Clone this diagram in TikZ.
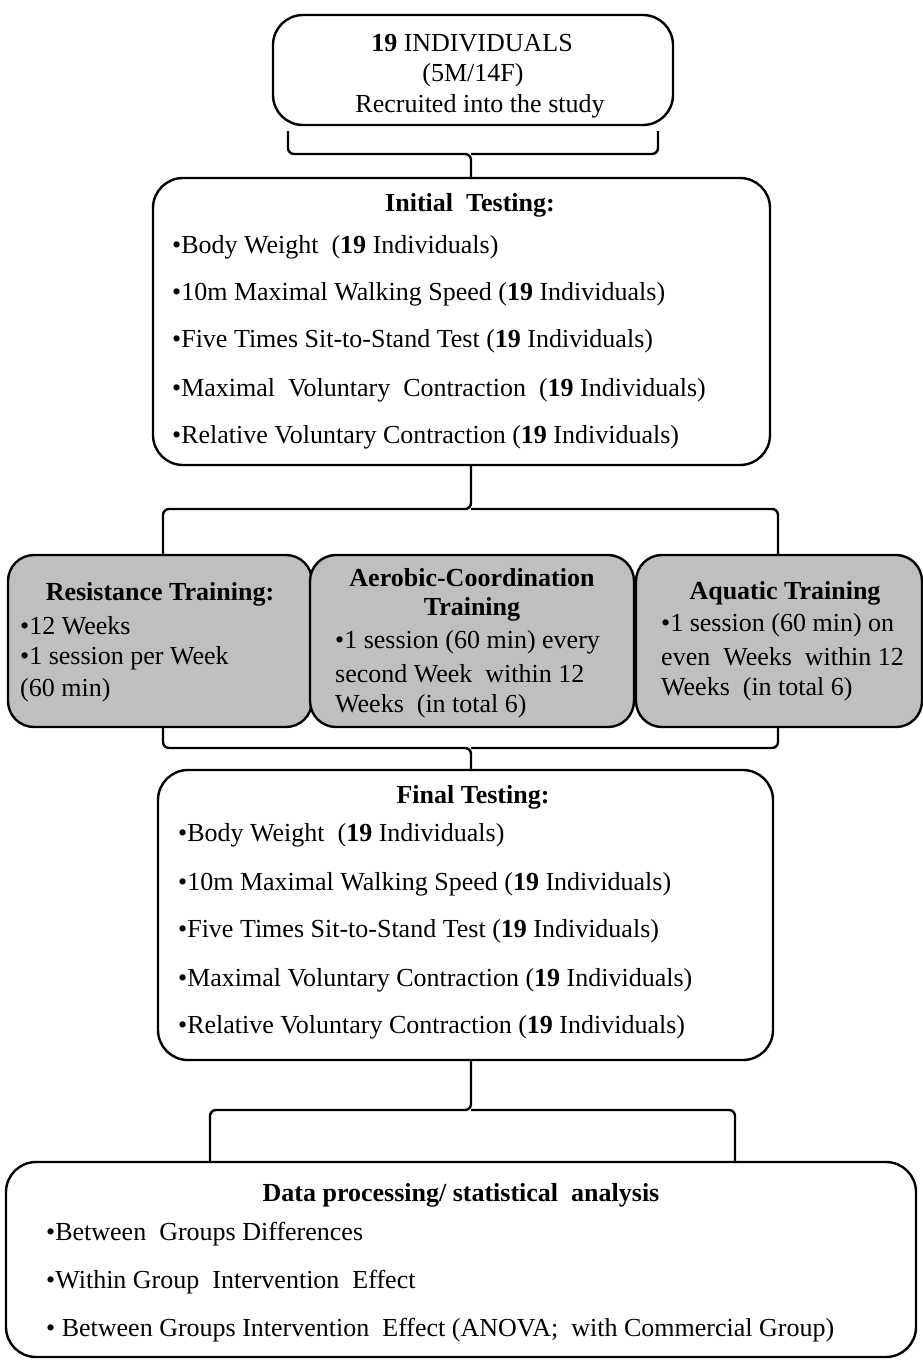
\documentclass[tikz,border=0pt]{standalone}
\usepackage{fontspec}
\setmainfont{Liberation Serif}
\usetikzlibrary{positioning}

\tikzset{
  box/.style={draw,line width=2.4pt,rounded corners=30pt,fill=white,inner sep=0pt},
  graybox/.style={box,fill=black!25,rounded corners=26pt},
  brace/.style={line width=2.4pt,rounded corners=6pt},
  txt/.style={anchor=west,inner sep=0pt,font=\fontsize{26}{30}\selectfont},
  ctxt/.style={inner sep=0pt,font=\fontsize{26}{30}\selectfont},
  head/.style={inner sep=0pt,font=\fontsize{26}{30}\selectfont\bfseries}
}

\begin{document}
\begin{tikzpicture}[x=1pt,y=-1pt]
\useasboundingbox (0,0) rectangle (923,1360);

% boxes
\node[box,minimum width=400,minimum height=110] (recruit) at (473,70) {};
\node[box,minimum width=617,minimum height=287] (initial) at (461.5,321.5) {};
\node[graybox,minimum width=304,minimum height=172] (resist) at (160,641) {};
\node[graybox,minimum width=324,minimum height=172] (aerob) at (472,641) {};
\node[graybox,minimum width=286,minimum height=172] (aqua) at (779,641) {};
\node[box,minimum width=615,minimum height=290] (final) at (465.5,915) {};
\node[box,minimum width=910,minimum height=195] (data) at (461,1259.5) {};

% braces
\coordinate (b1) at (471,154);
\draw[brace] (288,131) |- (b1) -- (b1 |- initial.north);
\draw[brace] (658,131) |- (b1);
\coordinate (b2) at (471,509);
\draw[brace] (163,555) |- (b2) -- (b2 |- initial.south);
\draw[brace] (778,555) |- (b2);
\coordinate (b3) at (471,748);
\draw[brace] (163,727) |- (b3) -- (b3 |- final.north);
\draw[brace] (778,727) |- (b3);
\coordinate (b4) at (471,1110);
\draw[brace] (210,1162) |- (b4) -- (b4 |- final.south);
\draw[brace] (735,1162) |- (b4);

% recruitment
\node[ctxt] (r1) at (472,43) {\textbf{19} INDIVIDUALS};
\node[ctxt] (r2) at (473,75) {(5M/14F)};
\node[ctxt] (r3) at (480,106) {Recruited into the study};

% initial testing
\node[head] (it0) at (470,205) {Initial\ \ Testing:};
\node[txt] (it1) at (172,247) {•Body Weight\ \ (\textbf{19} Individuals)};
\node[txt] (it2) at (172,294) {•10m Maximal Walking Speed (\textbf{19} Individuals)};
\node[txt] (it3) at (172,341) {•Five Times Sit-to-Stand Test (\textbf{19} Individuals)};
\node[txt] (it4) at (172,390) {•Maximal\ \ Voluntary\ \ Contraction\ \ (\textbf{19} Individuals)};
\node[txt] (it5) at (172,437) {•Relative Voluntary Contraction (\textbf{19} Individuals)};

% training groups
\node[head] (rs0) at (160,594) {Resistance Training:};
\node[txt] (rs1) at (20,626) {•12 Weeks};
\node[txt] (rs2) at (20,658) {•1 session per Week};
\node[txt] (rs3) at (20,690) {(60 min)};

\node[head] (ac0) at (472,578) {Aerobic-Coordination};
\node[head] (ac1) at (472,609) {Training};
\node[txt] (ac2) at (335,642) {•1 session (60 min) every};
\node[txt] (ac3) at (335,674) {second Week\ \ within 12};
\node[txt] (ac4) at (335,706) {Weeks\ \ (in total 6)};

\node[head] (aq0) at (785,593) {Aquatic Training};
\node[txt] (aq1) at (661,625) {•1 session (60 min) on};
\node[txt] (aq2) at (661,657) {even\ \ Weeks\ \ within 12};
\node[txt] (aq3) at (661,689) {Weeks\ \ (in total 6)};

% final testing
\node[head] (ft0) at (473,797) {Final Testing:};
\node[txt] (ft1) at (178,835) {•Body Weight\ \ (\textbf{19} Individuals)};
\node[txt] (ft2) at (178,884) {•10m Maximal Walking Speed (\textbf{19} Individuals)};
\node[txt] (ft3) at (178,931) {•Five Times Sit-to-Stand Test (\textbf{19} Individuals)};
\node[txt] (ft4) at (178,980) {•Maximal Voluntary Contraction (\textbf{19} Individuals)};
\node[txt] (ft5) at (178,1027) {•Relative Voluntary Contraction (\textbf{19} Individuals)};

% analysis
\node[head] (da0) at (461,1195) {Data processing/\ statistical\ \ analysis};
\node[txt] (da1) at (46,1234) {•Between\ \ Groups Differences};
\node[txt] (da2) at (46,1282) {•Within Group\ \ Intervention\ \ Effect};
\node[txt] (da3) at (46,1330) {•\ Between Groups Intervention\ \ Effect (ANOVA;\ \ with Commercial Group)};
\end{tikzpicture}
\end{document}
